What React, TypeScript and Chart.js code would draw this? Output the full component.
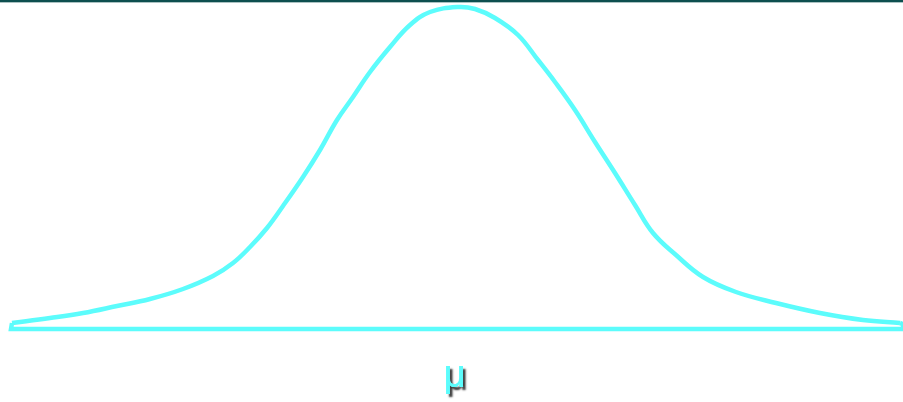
import React, { useEffect, useRef } from "react";
import { Chart, registerables } from "chart.js";

Chart.register(...registerables);

// Bell curve outline: horizontal position relative to the mean, and height above the baseline.
const curveX = [
  -4.46, -4.08, -3.75, -3.41, -3.08, -2.75, -2.45, -2.25, -2.08, -1.91, -1.75, -1.55,
  -1.38, -1.21, -1.05, -0.88, -0.68, -0.48, -0.28, 0, 0.17, 0.37, 0.6, 0.8, 0.97, 1.17, 1.37,
  1.57, 1.77, 1.95, 2.18, 2.45, 2.78, 3.18, 3.62, 4.05, 4.42,
];
const curveY = [
  0.06, 0.11, 0.16, 0.23, 0.3, 0.4, 0.53, 0.66, 0.82, 1.01, 1.23, 1.52, 1.79, 2.09, 2.32,
  2.57, 2.82, 3.04, 3.17, 3.22, 3.2, 3.11, 2.94, 2.69, 2.47, 2.19, 1.87, 1.56, 1.24, 0.96, 0.74,
  0.52, 0.37, 0.26, 0.16, 0.09, 0.06,
];
// Closing outline: left end, baseline, right end
const baseX = [-4.46, -4.47, 4.45, 4.45, 4.42];
const baseY = [0.06, 0, 0, 0.05, 0.06];
// Label placed under the mean
const meanValue = 0;
const meanLabel = "μ";

const CYAN = "rgb(92,252,252)";

const frame = {
  id: "frame",
  beforeDraw(chart: any) {
    const { ctx, width } = chart;
    ctx.save();
    ctx.fillStyle = "#0d4f4f";
    ctx.fillRect(0, 0, width, 2);
    ctx.fillStyle = "rgba(13,79,79,0.35)";
    ctx.fillRect(0, 2, width, 1);
    ctx.restore();
  },
  afterDraw(chart: any) {
    const { ctx } = chart;
    const x = chart.scales.x.getPixelForValue(meanValue);
    ctx.save();
    ctx.font = "38px 'Liberation Sans', Arial, sans-serif";
    ctx.textAlign = "center";
    ctx.textBaseline = "alphabetic";
    ctx.shadowColor = "rgba(0,0,0,0.8)";
    ctx.shadowOffsetX = 3;
    ctx.shadowOffsetY = 3;
    ctx.shadowBlur = 2;
    ctx.fillStyle = CYAN;
    // a second pass thickens the strokes slightly
    ctx.fillText(meanLabel, x - 3.5, 387);
    ctx.shadowColor = "transparent";
    ctx.fillText(meanLabel, x - 3, 387);
    ctx.restore();
  },
};

export default function App() {
  const ref = useRef<HTMLCanvasElement>(null);

  useEffect(() => {
    if (!ref.current) return;
    const chart = new Chart(ref.current, {
      type: "scatter",
      data: {
        datasets: [
          {
            data: baseX.map((x, i) => ({ x, y: baseY[i] })),
            showLine: true,
            borderColor: CYAN,
            borderWidth: 4.5,
            pointRadius: 0,
            tension: 0,
            borderJoinStyle: "miter",
          },
          {
            data: curveX.map((x, i) => ({ x, y: curveY[i] })),
            showLine: true,
            borderColor: CYAN,
            borderWidth: 4.5,
            pointRadius: 0,
            tension: 0.4,
            borderJoinStyle: "round",
          },
        ],
      },
      options: {
        responsive: false,
        animation: false,
        layout: { padding: 0 },
        plugins: {
          legend: { display: false },
          tooltip: { enabled: false },
        },
        scales: {
          x: { type: "linear", display: false, min: -4.58, max: 4.45 },
          y: { type: "linear", display: false, min: -0.73, max: 3.29 },
        },
      },
      plugins: [frame],
    });
    return () => chart.destroy();
  }, []);

  return (
    <div style={{ position: "fixed", left: 0, top: 0, width: 903, height: 402, background: "#fff" }}>
      <canvas ref={ref} width={903} height={402} />
    </div>
  );
}
